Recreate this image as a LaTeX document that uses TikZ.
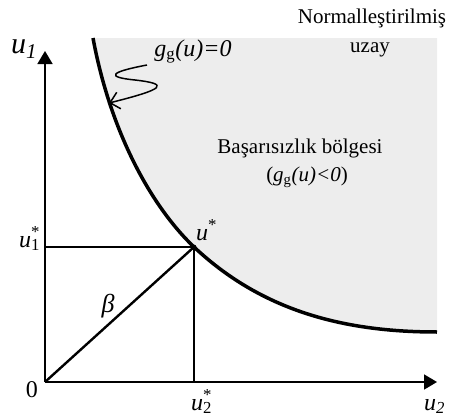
\documentclass[tikz,border=0pt]{standalone}
\usepackage{fontspec}
\setmainfont{Liberation Serif}
\usetikzlibrary{arrows.meta}

\definecolor{failgray}{gray}{0.93}
\tikzset{
  axis/.style={line width=1.8pt, -{Triangle[length=13pt,width=15pt]}},
  guide/.style={line width=1.8pt},
  limitcurve/.style={line width=3.5pt},
  txt/.style={inner sep=0pt, font=\fontsize{21}{25}\selectfont},
  lbl/.style={inner sep=0pt, font=\fontsize{24}{28}\selectfont\itshape}
}

\begin{document}
\begin{tikzpicture}[x=1pt, y=-1pt]
\useasboundingbox (0,0) rectangle (451,418);

% failure region
\fill[failgray] (93,38) .. controls (110,130) and (150,205) .. (194,247)
  .. controls (260,309) and (340,332) .. (437,332) -- (437,38) -- cycle;
\draw[limitcurve] (93,38) .. controls (110,130) and (150,205) .. (194,247)
  .. controls (260,309) and (340,332) .. (437,332);

\coordinate (O) at (45,382);
\coordinate (ustar) at (194,247);
\coordinate (u1tip) at (45,51);
\coordinate (u2tip) at (437,382);
\coordinate (u1foot) at (45,247);
\coordinate (u2foot) at (194,382);

% axes
\draw[axis] (O) -- (u1tip);
\draw[axis] (O) -- (u2tip);

% design point
\draw[guide] (u1foot) -- (ustar) -- (u2foot);
\draw[guide, line width=2.4pt] (O) -- (ustar);
\fill (ustar) circle (2.4pt);

% squiggle pointing to the limit state
\coordinate (sqstart) at (147,65);
\coordinate (sqtip) at (109,103);
\draw[line width=1.5pt, -{Straight Barb[length=9pt,width=17pt]}] (sqstart)
  .. controls (110,72) and (105,77) .. (135,80)
  .. controls (170,84) and (165,89) .. (sqtip);

% texts
\node[txt, anchor=base] (norm) at (372,23) {Normalleştirilmiş};
\node[txt, anchor=base] (uzay) at (370,52) {uzay};
\node[txt, anchor=base, font=\fontsize{24}{28}\selectfont] (gzero) at (193,56) {\itshape g\textsubscript{\upshape g}(u)=0};
\node[txt, anchor=base] (region) at (300,153) {Başarısızlık bölgesi};
\node[txt, anchor=base] (gneg) at (307,181) {(\itshape g\textsubscript{\upshape g}(u)<0\upshape)};

% labels
\node[lbl, anchor=base west, font=\fontsize{30}{34}\selectfont\itshape] (lu1) at (11,53) {u\textsubscript{1}};
\node[lbl, anchor=base west] (lu2) at (424,410) {u\textsubscript{2}};
\node[lbl, anchor=base west] (lust) at (196,240) {u\textsuperscript{\upshape *}};
\node[lbl, anchor=base west] (lu1st) at (19,247) {u\rlap{\textsuperscript{\upshape *}}\textsubscript{\upshape 1}};
\node[lbl, anchor=base west] (lu2st) at (191,410) {u\rlap{\textsuperscript{\upshape *}}\textsubscript{\upshape 2}};
\node[lbl, anchor=base, font=\fontsize{24}{28}\selectfont] (lzero) at (32,397) {0};
\node[lbl, font=\fontsize{26}{30}\selectfont\itshape] (lbeta) at (108,306) {β};
\end{tikzpicture}
\end{document}
